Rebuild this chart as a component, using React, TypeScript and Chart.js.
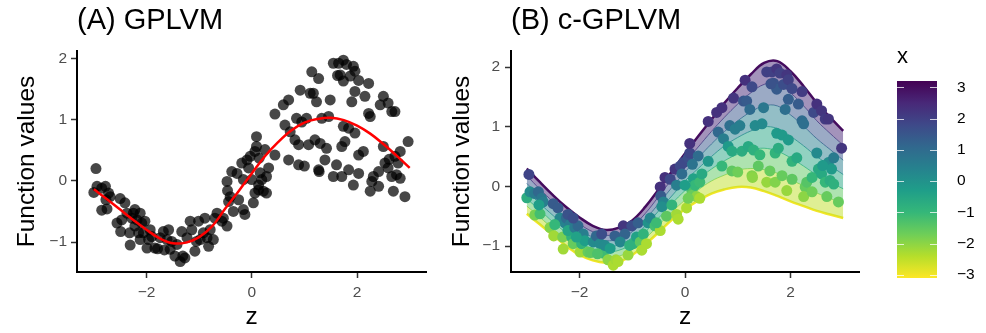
import React, { useEffect, useRef } from "react";
import { Chart, registerables } from "chart.js";

Chart.register(...registerables);

const FONT = "'Liberation Sans', Arial, Helvetica, sans-serif";

// ---- observed data (same z / y in both panels; x = covariate colour) ----
const zValues = [
  -2.96, -3.0, -2.94, -2.85, -2.78, -2.85, -2.75, -2.72, -2.69, -2.77,
  -2.56, -2.5, -2.41, -2.49, -2.37, -2.32, -2.31, -2.28, -2.25, -2.22,
  -2.18, -2.15, -2.22, -2.12, -2.09, -2.03, -1.99, -1.96, -1.93, -1.9,
  -1.84, -1.79, -1.74, -1.68, -1.61, -1.58, -1.55, -1.52, -1.46, -1.42,
  -1.36, -1.31, -1.33, -1.27, -1.17, -1.14, -1.08, -1.01, -0.98, -0.92,
  -0.89, -0.85, -0.82, -0.79, -0.73, -0.7, -0.66, -0.57, -0.47, -0.54,
  -0.47, -0.46, -0.41, -0.44, -0.38, -0.35, -0.28, -0.25, -0.19, -0.16,
  -0.16, -0.13, -0.09, -0.06, -0.03, 0.03, 0.06, 0.09, 0.09, 0.13,
  0.16, 0.13, 0.19, 0.22, 0.25, 0.28, 0.28, 0.32, 0.06, 0.0,
  0.44, 0.44, 0.6, 0.63, 0.7, 0.7, 0.73, 0.82, 0.85, 0.89,
  0.89, 0.92, 0.95, 1.04, 1.08, 1.11, 1.14, 1.17, 1.2, 1.23,
  1.27, 1.27, 1.28, 1.3, 1.33, 1.39, 1.42, 1.46, 1.49, 1.55,
  1.55, 1.61, 1.65, 1.68, 1.71, 1.71, 1.74, 1.74, 1.77, 1.74,
  1.8, 1.84, 1.84, 1.87, 1.9, 1.93, 1.93, 1.96, 1.96, 1.96,
  2.03, 2.03, 2.03, 2.12, 2.15, 2.22, 2.22, 2.25, 2.28, 2.25,
  2.31, 2.41, 2.41, 2.44, 2.5, 2.5, 2.53, 2.59, 2.59, 2.66,
  2.66, 2.69, 2.72, 2.72, 2.75, 2.78, 2.82, 2.82, 2.91, 2.97,
  -2.47, -2.12, -2.06, -1.66, -1.23, -1.05, 0.14, 1.63, 1.0, 2.61,
];
const yValues = [
  0.2, -0.19, -0.09, -0.12, -0.09, -0.48, -0.46, -0.2, -0.26, -0.31,
  -0.69, -0.29, -0.36, -0.83, -0.53, -0.85, -1.05, -0.61, -0.53, -0.47,
  -0.64, -0.85, -0.74, -0.96, -0.69, -0.66, -1.1, -0.96, -0.8, -0.91,
  -1.1, -1.11, -0.93, -0.83, -0.96, -0.8, -1.12, -0.99, -1.23, -1.04,
  -1.32, -1.23, -0.83, -1.26, -0.66, -0.8, -1.15, -0.66, -0.96, -0.85,
  -0.61, -0.93, -1.07, -0.8, -0.96, -0.61, -0.53, -0.66, -0.74, -0.61,
  -0.01, -0.16, -0.26, -0.34, 0.15, -0.5, 0.12, -0.31, 0.29, 0.02,
  -0.47, -0.55, 0.34, 0.21, 0.4, -0.36, 0.48, 0.56, 0.72, -0.07,
  0.13, -0.15, 0.02, -0.17, 0.51, 0.07, -0.2, 0.21, -0.2, 0.02,
  1.09, 0.42, 1.24, 0.91, 1.32, 0.34, 0.8, 0.67, 1.02, 0.26,
  0.59, 1.48, 0.96, 1.02, 0.59, 1.43, 1.78, 1.43, 0.67, 1.29,
  1.67, 0.18, 0.15, 0.61, 1.02, 0.34, 0.53, 1.05, 1.32, 1.92,
  0.07, 0.26, 1.92, 1.73, 0.07, 0.56, 1.97, 1.63, 0.64, 0.89,
  1.9, 0.86, 0.18, 1.71, 1.29, 1.87, -0.07, 0.78, 1.79, 1.46,
  1.64, 0.42, 0.12, 0.48, 1.38, 1.59, 1.1, 1.05, -0.01, -0.17,
  0.07, -0.09, 0.15, 1.24, 1.38, 0.56, 0.29, 1.27, 0.21, 1.13,
  0.07, -0.17, 1.13, 0.4, 0.1, 0.29, 0.48, 0.04, -0.26, 0.64,
  -0.64, -0.53, -0.85, -1.13, -0.93, -0.99, 0.37, 1.72, 0.24, 0.35,
];
const xCovariate = [
  1.9, -0.7, 0.2, 0.6, 1.1, -1.8, -1.2, 0.7, 0.5, -0.3,
  -1.9, 1.4, 1.4, -2.2, 0.3, -1.8, -2.2, 0.4, 1.0, 1.6,
  0.6, -0.9, -0.5, -1.6, 0.6, 1.1, -2.2, -0.9, 0.5, -0.3,
  -1.6, -1.5, 0.2, 1.1, 0.2, 1.7, -1.1, 0.2, -2.0, -0.3,
  -2.3, -2.2, 1.3, -2.3, 2.2, 1.2, -2.1, 1.7, -0.9, -0.4,
  1.3, -1.5, -2.3, -0.9, -2.3, 0.0, 0.3, -1.2, -2.3, -1.1,
  2.3, 1.4, 0.4, 0.1, 2.3, -1.5, 1.8, -0.9, 2.2, 0.5,
  -2.2, -2.3, 1.8, 1.0, 1.8, -2.3, 1.7, 1.9, 2.3, -1.3,
  -0.4, -1.6, -1.0, -2.0, 1.0, -1.1, -2.3, -0.6, -1.7, -0.3,
  2.3, -0.1, 2.3, 1.1, 2.3, -1.0, 0.5, -0.2, 0.9, -1.5,
  -0.6, 2.2, 0.5, 0.5, -0.7, 1.5, 2.3, 1.4, -0.6, 1.0,
  1.8, -1.9, -2.0, -0.8, 0.2, -1.5, -1.0, 0.2, 0.7, 2.0,
  -2.1, -1.6, 2.0, 1.6, -1.9, -0.9, 2.2, 1.4, -0.7, -0.2,
  2.0, -0.2, -1.6, 1.7, 0.9, 2.2, -2.1, -0.2, 2.0, 1.3,
  1.8, -0.9, -1.5, -0.6, 1.4, 2.1, 1.0, 0.9, -1.6, -2.0,
  -1.4, -1.7, -1.0, 1.8, 2.3, 0.2, -0.6, 2.2, -0.6, 2.1,
  -1.0, -1.6, 2.2, 0.1, -0.7, -0.2, 0.6, -0.8, -1.6, 2.2,
  -1.0, 1.7, -0.4, -1.3, 0.3, -0.8, 0.8, 1.6, -1.7, -0.2,
];

// ---- fitted curves on a z grid ----
const curveZ = [
  -3, -2.75, -2.5, -2.25, -2, -1.75, -1.5, -1.25, -1, -0.75, -0.5, -0.25, 0,
  0.25, 0.5, 0.75, 1, 1.25, 1.5, 1.75, 2, 2.25, 2.5, 2.75, 3,
];
const fitGPLVM = [
  -0.14, -0.3, -0.47, -0.64, -0.8, -0.94, -1.02, -1.01, -0.92, -0.74, -0.45, -0.17, 0.12,
  0.4, 0.63, 0.82, 0.95, 1.01, 1.03, 0.99, 0.9, 0.77, 0.6, 0.41, 0.21,
];
const bandLevels = [3, 2, 1, 0, -1, -2, -3];
const bandX3 = [0.3, 0.07, -0.15, -0.35, -0.52, -0.66, -0.73, -0.69, -0.57, -0.34, -0.05, 0.25, 0.55, 0.84, 1.12, 1.4, 1.65, 1.88, 2.07, 2.1, 1.93, 1.68, 1.4, 1.16, 0.93];
const bandX2 = [0.18, -0.05, -0.26, -0.46, -0.63, -0.76, -0.82, -0.79, -0.67, -0.45, -0.17, 0.12, 0.4, 0.66, 0.92, 1.16, 1.38, 1.57, 1.71, 1.73, 1.57, 1.35, 1.1, 0.89, 0.69];
const bandX1 = [0.05, -0.17, -0.37, -0.57, -0.73, -0.85, -0.91, -0.88, -0.76, -0.55, -0.29, -0.02, 0.24, 0.48, 0.71, 0.92, 1.1, 1.25, 1.35, 1.35, 1.2, 1.01, 0.8, 0.62, 0.44];
const bandX0 = [-0.08, -0.29, -0.49, -0.68, -0.84, -0.95, -1.0, -0.98, -0.86, -0.66, -0.41, -0.16, 0.09, 0.3, 0.5, 0.68, 0.82, 0.93, 1.0, 0.97, 0.84, 0.68, 0.5, 0.35, 0.2];
const bandXm1 = [-0.21, -0.4, -0.6, -0.78, -0.94, -1.05, -1.1, -1.07, -0.96, -0.76, -0.53, -0.29, -0.07, 0.12, 0.29, 0.43, 0.54, 0.61, 0.64, 0.59, 0.48, 0.34, 0.19, 0.07, -0.04];
const bandXm2 = [-0.33, -0.52, -0.71, -0.89, -1.05, -1.14, -1.19, -1.17, -1.05, -0.87, -0.65, -0.43, -0.23, -0.06, 0.09, 0.19, 0.27, 0.3, 0.28, 0.22, 0.11, 0.01, -0.11, -0.2, -0.29];
const bandXm3 = [-0.46, -0.64, -0.82, -1.0, -1.15, -1.24, -1.28, -1.26, -1.15, -0.97, -0.77, -0.56, -0.38, -0.24, -0.12, -0.05, -0.01, -0.02, -0.08, -0.16, -0.25, -0.33, -0.41, -0.47, -0.53];
const bandCurves = [bandX3, bandX2, bandX1, bandX0, bandXm1, bandXm2, bandXm3];

const colorbarTicks = [-3, -2, -1, 0, 1, 2, 3];
const colorRange = [-3.1, 3.2];

// ---- styling helpers ----
const VIRIDIS = ["#440154", "#482878", "#3e4989", "#31688e", "#26828e", "#1f9e89", "#35b779", "#6ece58", "#b5de2b", "#fde725"];
function hexRgb(h: string) {
  return [parseInt(h.slice(1, 3), 16), parseInt(h.slice(3, 5), 16), parseInt(h.slice(5, 7), 16)];
}
function viridis(t: number, alpha = 1) {
  const tt = Math.max(0, Math.min(1, t)) * (VIRIDIS.length - 1);
  const i = Math.min(VIRIDIS.length - 2, Math.floor(tt));
  const f = tt - i;
  const a = hexRgb(VIRIDIS[i]);
  const b = hexRgb(VIRIDIS[i + 1]);
  const c = a.map((v, k) => Math.round(v + (b[k] - v) * f));
  return `rgba(${c[0]},${c[1]},${c[2]},${alpha})`;
}
function colorFor(v: number, alpha = 1) {
  return viridis((colorRange[1] - v) / (colorRange[1] - colorRange[0]), alpha);
}
const tickFmt = (v: any) => (Number(v) < 0 ? "\u2212" + Math.abs(Number(v)) : String(v));

function axis(min: number, max: number, step: number, opts: any) {
  return {
    type: "linear",
    min,
    max,
    border: { display: true, color: "#000", width: 2 },
    grid: { display: true, drawOnChartArea: false, drawTicks: true, tickLength: 6, tickWidth: 1.5, tickColor: "#333" },
    ticks: { stepSize: step, includeBounds: false, color: "#4d4d4d", font: { family: FONT, size: 15.5 }, padding: opts.tickPad, callback: tickFmt, maxRotation: 0 },
    title: { display: true, text: opts.title, color: "#000", font: { family: FONT, size: 24.5 }, padding: opts.titlePad },
    afterFit: opts.afterFit,
  };
}

function panelTitle(text: string) {
  return {
    display: true,
    text,
    align: "start",
    fullSize: false,
    color: "#000",
    font: { family: FONT, size: 29, weight: "normal" },
    padding: { top: 4, bottom: 12.2 },
  };
}

function pts() {
  return zValues.map((z, i) => ({ x: z, y: yValues[i] }));
}
function curve(vals: number[]) {
  return curveZ.map((z, i) => ({ x: z, y: vals[i] }));
}

function leftConfig(): any {
  return {
    type: "line",
    data: {
      datasets: [
        { data: curve(fitGPLVM), borderColor: "#ff0000", borderWidth: 2.5, pointRadius: 0, tension: 0.4, fill: false },
        { data: pts(), showLine: false, pointRadius: 5.5, pointBorderWidth: 0, pointBackgroundColor: "rgba(0,0,0,0.72)", pointBorderColor: "rgba(0,0,0,0)" },
      ],
    },
    options: {
      animation: false,
      responsive: false,
      events: [],
      layout: { padding: { left: 0, right: 14, top: 0, bottom: 0 } },
      plugins: { legend: { display: false }, tooltip: { enabled: false }, title: panelTitle("(A) GPLVM") },
      scales: {
        x: axis(-3.32, 3.31, 2, { title: "z", tickPad: 5, titlePad: { top: 0, bottom: 1 }, afterFit: (s: any) => { s.height = 61; } }),
        y: axis(-1.49, 2.12, 1, { title: "Function values", tickPad: 4, titlePad: { top: 13, bottom: 0 }, afterFit: (s: any) => { s.width = 77; } }),
      },
    },
  };
}

function rightConfig(): any {
  const last = bandCurves.length - 1;
  const bands = bandCurves.map((vals, k) => ({
    data: curve(vals),
    borderColor: colorFor(bandLevels[k], k === 0 || k === last ? 1 : 0.8),
    borderWidth: k === 0 || k === last ? 2.5 : 1,
    pointRadius: 0,
    tension: 0.4,
    fill: k < last ? "+1" : false,
    backgroundColor: colorFor(bandLevels[k] - 0.5, 0.5),
  }));
  return {
    type: "line",
    data: {
      datasets: [
        { data: pts(), showLine: false, pointRadius: 5.5, pointBorderWidth: 0, pointBackgroundColor: xCovariate.map((v) => colorFor(v)), pointBorderColor: "rgba(0,0,0,0)", fill: false },
        ...bands,
      ],
    },
    options: {
      animation: false,
      responsive: false,
      events: [],
      layout: { padding: { left: 0, right: 21, top: 0, bottom: 0 } },
      plugins: { legend: { display: false }, tooltip: { enabled: false }, title: panelTitle("(B) c-GPLVM"), filler: { propagate: false } },
      scales: {
        x: axis(-3.3, 3.3, 2, { title: "z", tickPad: 5, titlePad: { top: 0, bottom: 1 }, afterFit: (s: any) => { s.height = 61; } }),
        y: axis(-1.435, 2.27, 1, { title: "Function values", tickPad: 5, titlePad: { top: 7.3, bottom: 0 }, afterFit: (s: any) => { s.width = 71; } }),
      },
    },
  };
}

const colorbarTickMarks = {
  id: "cbTicks",
  afterDatasetsDraw(chart: any) {
    const { ctx, chartArea, scales } = chart;
    ctx.save();
    ctx.strokeStyle = "rgba(255,255,255,0.75)";
    ctx.lineWidth = 1;
    for (const v of colorbarTicks) {
      const y = Math.round(scales.y.getPixelForValue(v)) + 0.5;
      ctx.beginPath();
      ctx.moveTo(chartArea.left, y);
      ctx.lineTo(chartArea.left + 7, y);
      ctx.moveTo(chartArea.right - 7, y);
      ctx.lineTo(chartArea.right, y);
      ctx.stroke();
    }
    ctx.restore();
  },
};

function colorbarConfig(): any {
  return {
    type: "bar",
    data: {
      labels: [""],
      datasets: [
        {
          data: [[colorRange[0], colorRange[1]]],
          barPercentage: 1,
          categoryPercentage: 1,
          borderWidth: 0,
          backgroundColor: (c: any) => {
            const area = c.chart.chartArea;
            if (!area) return VIRIDIS[4];
            const g = c.chart.ctx.createLinearGradient(0, area.top, 0, area.bottom);
            VIRIDIS.forEach((col, i) => g.addColorStop(i / (VIRIDIS.length - 1), col));
            return g;
          },
        },
      ],
    },
    options: {
      animation: false,
      responsive: false,
      events: [],
      layout: { padding: { left: 17, right: 0, top: 0, bottom: 55 } },
      plugins: {
        legend: { display: false },
        tooltip: { enabled: false },
        title: { display: true, text: "x", align: "start", fullSize: false, color: "#000", font: { family: FONT, size: 22, weight: "normal" }, padding: { top: 43.8, bottom: 10.8 } },
      },
      scales: {
        x: { display: false },
        y: {
          position: "right",
          min: colorRange[0],
          max: colorRange[1],
          grid: { display: false },
          border: { display: false },
          ticks: { stepSize: 1, includeBounds: false, color: "#000", font: { family: FONT, size: 15.5 }, padding: 12, callback: tickFmt },
          afterFit: (s: any) => { s.width = 49; },
        },
      },
    },
    plugins: [colorbarTickMarks],
  };
}

export default function App() {
  const leftRef = useRef<HTMLCanvasElement>(null);
  const rightRef = useRef<HTMLCanvasElement>(null);
  const barRef = useRef<HTMLCanvasElement>(null);

  useEffect(() => {
    const charts = [
      new Chart(leftRef.current as HTMLCanvasElement, leftConfig()),
      new Chart(rightRef.current as HTMLCanvasElement, rightConfig()),
      new Chart(barRef.current as HTMLCanvasElement, colorbarConfig()),
    ];
    return () => charts.forEach((c) => c.destroy());
  }, []);

  const abs = (left: number, width: number): React.CSSProperties => ({ position: "absolute", left, top: 0, width, height: 333 });
  return (
    <div style={{ position: "fixed", left: 0, top: 0, width: 986, height: 333, background: "#fff" }}>
      <canvas ref={leftRef} width={440} height={333} style={abs(0, 440)} />
      <canvas ref={rightRef} width={440} height={333} style={abs(440, 440)} />
      <canvas ref={barRef} width={106} height={333} style={abs(880, 106)} />
    </div>
  );
}
